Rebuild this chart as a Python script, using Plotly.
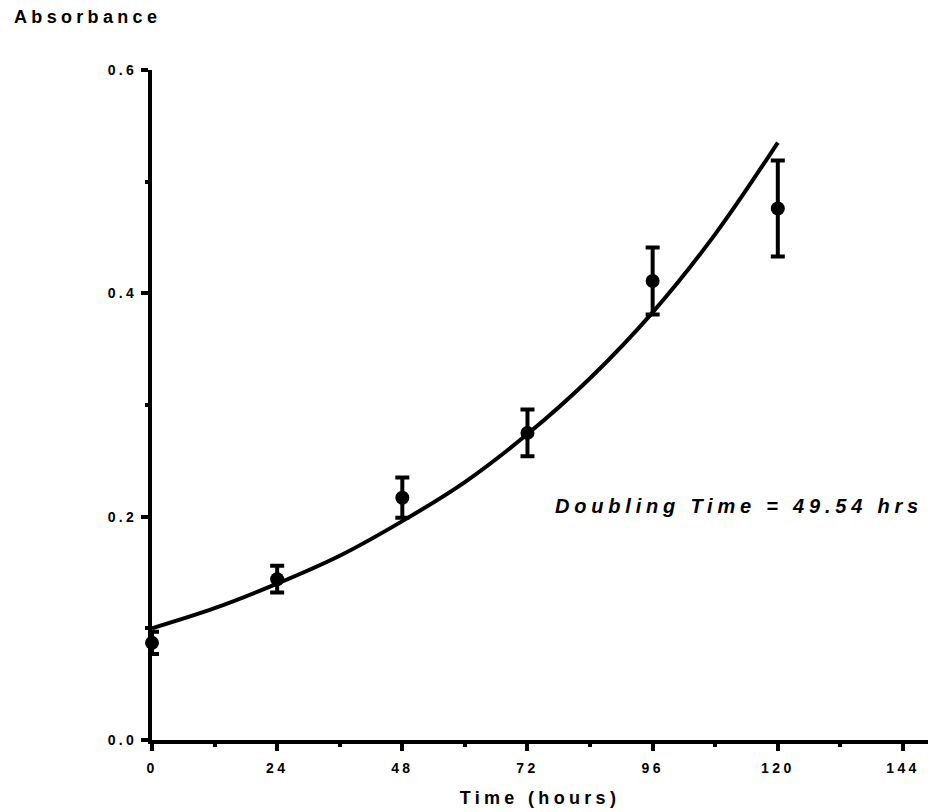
import plotly.graph_objects as go

# Data
time_h = [0, 24, 48, 72, 96, 120]
absorbance_mean = [0.087, 0.144, 0.217, 0.275, 0.411, 0.476]
absorbance_err = [0.010, 0.012, 0.018, 0.021, 0.030, 0.043]

# Fitted exponential growth curve
fit_time = [0, 12, 24, 36, 48, 60, 72, 84, 96, 108, 120]
fit_abs = [0.100, 0.118, 0.140, 0.165, 0.196, 0.231, 0.274, 0.324, 0.383, 0.453, 0.535]

x_ticks = [0, 24, 48, 72, 96, 120, 144]
x_minor = [12, 36, 60, 84, 108, 132]
y_ticks = [0.0, 0.2, 0.4, 0.6]
y_tick_labels = ["0.0", "0.2", "0.4", "0.6"]
y_minor = [0.1, 0.3, 0.5]

FONT = "Liberation Sans, Arial, sans-serif"

fig = go.Figure()

fig.add_trace(go.Scatter(
    x=fit_time, y=fit_abs, mode="lines",
    line=dict(color="black", width=4, shape="spline", smoothing=1.0),
    cliponaxis=False, showlegend=False, hoverinfo="skip",
))

fig.add_trace(go.Scatter(
    x=time_h, y=absorbance_mean, mode="markers",
    marker=dict(color="black", size=14, symbol="circle"),
    error_y=dict(type="data", array=absorbance_err, visible=True,
                 color="black", thickness=4, width=7),
    cliponaxis=False, showlegend=False,
))

fig.update_layout(
    width=930, height=812,
    margin=dict(l=152, r=2, t=70, b=72),
    paper_bgcolor="white", plot_bgcolor="white",
    font=dict(family=FONT, color="black"),
    xaxis=dict(
        range=[0, 148.8], showgrid=False, zeroline=False,
        showline=True, linecolor="black", linewidth=4,
        tickmode="array", tickvals=x_ticks, ticktext=[str(v) for v in x_ticks],
        ticks="outside", ticklen=7, tickwidth=4, tickcolor="black",
        minor=dict(tickmode="array", tickvals=x_minor, ticks="outside",
                   ticklen=3, tickwidth=4, tickcolor="black"),
        tickfont=dict(family=FONT, size=14, weight="bold", color="black"),
        ticklabelstandoff=5,
        title=dict(text="Time (hours)", standoff=18,
                   font=dict(family=FONT, size=18, weight="bold", color="black")),
    ),
    yaxis=dict(
        range=[0, 0.6], showgrid=False, zeroline=False,
        showline=True, linecolor="black", linewidth=4,
        tickmode="array", tickvals=y_ticks, ticktext=y_tick_labels,
        ticks="outside", ticklen=7, tickwidth=4, tickcolor="black",
        minor=dict(tickmode="array", tickvals=y_minor, ticks="outside",
                   ticklen=3, tickwidth=4, tickcolor="black"),
        tickfont=dict(family=FONT, size=14, weight="bold", color="black"),
        ticklabelstandoff=1,
    ),
    annotations=[
        dict(text="Absorbance", xref="paper", yref="paper",
             x=-140 / 776, y=1.079, xanchor="left", yanchor="middle",
             showarrow=False,
             font=dict(family=FONT, size=18, weight="bold", color="black")),
        dict(text="Doubling Time = 49.54 hrs", xref="x", yref="y",
             x=148.3, y=0.210, xanchor="right", yanchor="middle",
             showarrow=False,
             font=dict(family=FONT, size=20, weight="bold", style="italic", color="black")),
    ],
)

# Widen letter spacing (as in the reference) and re-measure texts so that
# anchoring and clipping account for the wider text.
post = """
var s = document.createElement('style');
s.innerHTML = 'svg text { letter-spacing: 0.24em; }';
document.head.appendChild(s);
var gd = document.getElementById('{plot_id}');
var F2 = 'Liberation Sans, Arial, Helvetica, sans-serif';
Plotly.relayout(gd, {
  'font.family': F2,
  'xaxis.tickfont.family': F2,
  'yaxis.tickfont.family': F2,
  'xaxis.title.font.family': F2,
  'annotations[0].font.family': F2,
  'annotations[1].font.family': F2
});
"""

fig.write_html("out.html", post_script=post)
